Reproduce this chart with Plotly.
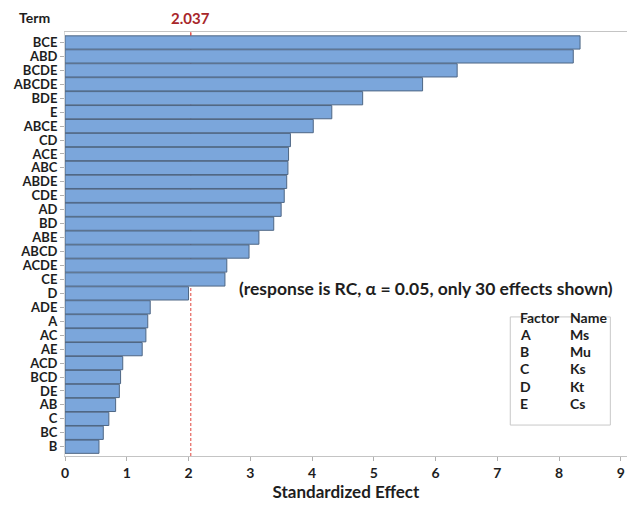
import plotly.graph_objects as go

terms = ["BCE", "ABD", "BCDE", "ABCDE", "BDE", "E", "ABCE", "CD", "ACE", "ABC",
         "ABDE", "CDE", "AD", "BD", "ABE", "ABCD", "ACDE", "CE", "D", "ADE",
         "A", "AC", "AE", "ACD", "BCD", "DE", "AB", "C", "BC", "B"]
effects = [8.34, 8.23, 6.35, 5.79, 4.82, 4.32, 4.02, 3.65, 3.62, 3.61,
           3.59, 3.55, 3.50, 3.38, 3.14, 2.98, 2.62, 2.59, 2.00, 1.38,
           1.34, 1.31, 1.25, 0.935, 0.90, 0.88, 0.82, 0.71, 0.62, 0.55]
critical = 2.037
x_ticks = [0, 1, 2, 3, 4, 5, 6, 7, 8, 9]
factors = ["A", "B", "C", "D", "E"]
names = ["Ms", "Mu", "Ks", "Kt", "Cs"]

FONT = "Lato"
TXT = "#1e1e1e"

fig = go.Figure()
fig.add_trace(go.Bar(
    x=effects, y=list(range(len(terms))), orientation="h",
    marker=dict(color="#7BA6DB", line=dict(color="#4E6684", width=1)),
    width=0.95, hoverinfo="x+y",
))

# reference line (behind bars)
fig.add_shape(type="line", xref="x", yref="paper", x0=critical, x1=critical,
              y0=0, y1=1, layer="below",
              line=dict(color="#E0453E", width=1, dash="3px,2px"))
fig.add_shape(type="line", xref="x", yref="paper", x0=critical, x1=critical,
              y0=1, y1=0.992, line=dict(color="#E0453E", width=1))
fig.add_annotation(x=critical, y=1, xref="x", yref="paper", yanchor="bottom",
                   yshift=3, text="2.037", showarrow=False,
                   font=dict(family=FONT, size=15, color="#A8262A", weight="bold"))
fig.add_annotation(x=-0.055, y=1.035, xref="paper", yref="paper", xanchor="center",
                   yanchor="middle", showarrow=False,
                   text="Term", font=dict(family=FONT, size=14, color=TXT, weight="bold"))

fig.add_annotation(x=5.85, y=0.396, xref="x", yref="paper", showarrow=False,
                   text="(response is RC, α = 0.05, only 30 effects shown)",
                   font=dict(family=FONT, size=17.5, color=TXT, weight="bold"))

# factor legend box
fig.add_shape(type="rect", xref="x", yref="paper", x0=7.21, x1=8.83, y0=0.073, y1=0.328,
              line=dict(color="#C8C8C8", width=1), fillcolor="white")
rows_y = [0.302, 0.262, 0.221, 0.181, 0.140, 0.100]
col1 = ["Factor"] + factors
col2 = ["Name"] + names
for yv, a, b in zip(rows_y, col1, col2):
    fig.add_annotation(x=7.33, y=yv, xref="x", yref="paper", xanchor="left", showarrow=False,
                       text=a, font=dict(family=FONT, size=14, color=TXT, weight="bold"))
    fig.add_annotation(x=8.14, y=yv, xref="x", yref="paper", xanchor="left", showarrow=False,
                       text=b, font=dict(family=FONT, size=14, color=TXT, weight="bold"))

fig.update_layout(
    width=628, height=506,
    margin=dict(l=65, r=1, t=32, b=50),
    paper_bgcolor="white", plot_bgcolor="white",
    showlegend=False,
    xaxis=dict(range=[0, 9.1], tickvals=x_ticks, showgrid=False, zeroline=False,
               automargin=False,
               showline=True, linecolor="#C4C4C4", mirror=True,
               ticks="outside", ticklen=4, tickcolor="#B0B0B0",
               tickfont=dict(family=FONT, size=14, color=TXT, weight="bold"),
               title=dict(text="Standardized Effect", standoff=4,
                          font=dict(family=FONT, size=17, color=TXT, weight="bold"))),
    yaxis=dict(range=[29.665, -0.75], tickvals=list(range(len(terms))), ticktext=terms,
               automargin=False,
               showgrid=False, zeroline=False, showline=True, linecolor="#D8D8D8",
               ticks="outside", ticklen=4, tickcolor="#B0B0B0",
               tickfont=dict(family=FONT, size=13, color=TXT, weight="bold")),
)
fig.write_html("out.html", config={"displayModeBar": False},
               post_script="document.body.style.margin='0';")
